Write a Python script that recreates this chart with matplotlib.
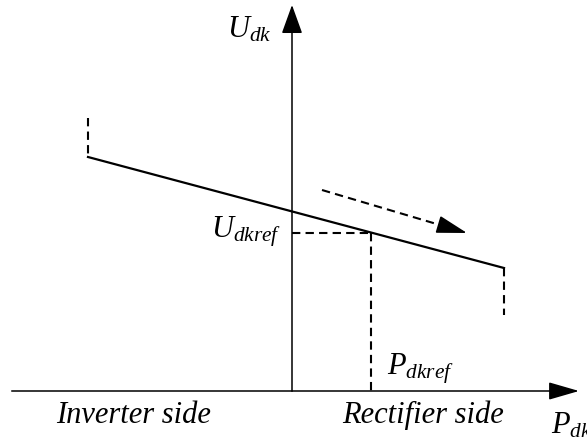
import matplotlib
matplotlib.use("Agg")
import matplotlib.pyplot as plt

plt.rcParams['mathtext.fontset'] = 'custom'
plt.rcParams['mathtext.it'] = 'Liberation Serif:italic'
plt.rcParams['mathtext.rm'] = 'Liberation Serif'

# schematic coordinates (pixel space of the drawing, y grows downwards)
origin = (292, 391)
x_axis_start = 12
x_axis_tip = 579
y_axis_tip = 5

# droop characteristic
droop_x = [88, 504]
droop_y = [157, 268]
limit_left_y = [118, 157]
limit_right_y = [268, 315]

# reference operating point
ref_x = 371
ref_y = 233

# direction arrow
move_start = (322, 190)
move_tip = (467, 233)

side_labels = ["Inverter side", "Rectifier side"]

fig = plt.figure(figsize=(5.87, 4.43), dpi=100)
ax = fig.add_axes([0, 0, 1, 1])
ax.set_xlim(0, 587)
ax.set_ylim(443, 0)
ax.axis('off')

# axes with arrows
ax.plot([x_axis_start, x_axis_tip - 20], [origin[1], origin[1]], color='k', lw=1.1)
ax.plot([origin[0], origin[0]], [origin[1], y_axis_tip + 20], color='k', lw=1.1)
ax.annotate('', xy=(x_axis_tip, origin[1]), xytext=(x_axis_tip - 22, origin[1]),
            arrowprops=dict(arrowstyle='-|>,head_length=1.9,head_width=0.55',
                            color='k', lw=1.1, shrinkA=0, shrinkB=0))
ax.annotate('', xy=(origin[0], y_axis_tip), xytext=(origin[0], y_axis_tip + 22),
            arrowprops=dict(arrowstyle='-|>,head_length=1.8,head_width=0.65',
                            color='k', lw=1.1, shrinkA=0, shrinkB=0))

# characteristic line and limits
ax.plot(droop_x, droop_y, color='k', lw=1.6)
dash = (4, 2.5)
ax.plot([droop_x[0], droop_x[0]], limit_left_y, color='k', lw=1.5, dashes=dash)
ax.plot([droop_x[1], droop_x[1]], limit_right_y, color='k', lw=1.5, dashes=dash)

# reference point projections
ax.plot([origin[0], ref_x], [ref_y, ref_y], color='k', lw=1.5, dashes=dash)
ax.plot([ref_x, ref_x], [ref_y, origin[1]], color='k', lw=1.5, dashes=dash)

# dashed direction arrow
frac = 0.82
mid = (move_start[0] + frac * (move_tip[0] - move_start[0]),
       move_start[1] + frac * (move_tip[1] - move_start[1]))
ax.plot([move_start[0], mid[0]], [move_start[1], mid[1]], color='k', lw=1.5, dashes=dash)
ax.annotate('', xy=move_tip, xytext=mid,
            arrowprops=dict(arrowstyle='-|>,head_length=1.9,head_width=0.55',
                            color='k', lw=1.2, shrinkA=0, shrinkB=0))

# labels
ax.text(227, 37, r'$U_{dk}$', fontsize=22, ha='left', va='baseline')
ax.text(211, 237, r'$U_{dkref}$', fontsize=22, ha='left', va='baseline')
ax.text(387, 375, r'$P_{dkref}$', fontsize=22, ha='left', va='baseline')
ax.text(551, 433, r'$P_{dk}$', fontsize=22, ha='left', va='baseline')

ax.text(56, 423, side_labels[0], fontsize=22, family='Liberation Serif',
        style='italic', ha='left', va='baseline')
ax.text(342, 423, side_labels[1], fontsize=22, family='Liberation Serif',
        style='italic', ha='left', va='baseline')

fig.savefig('out.png', dpi=100)
